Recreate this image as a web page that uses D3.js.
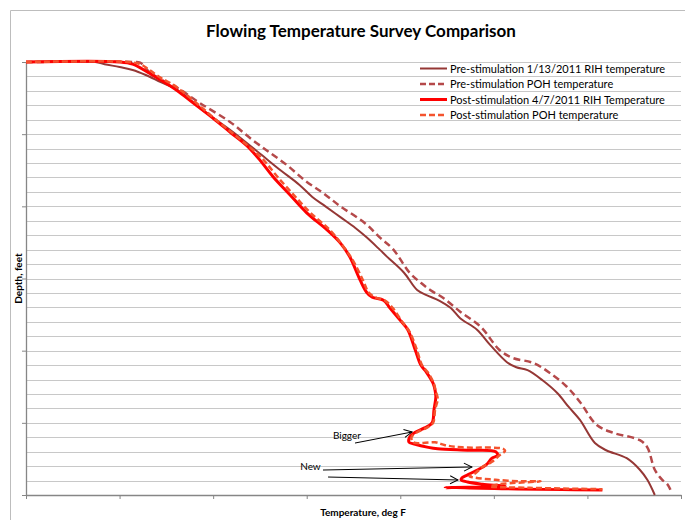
<!DOCTYPE html>
<html>
<head>
<meta charset="utf-8">
<script src="https://cdn.jsdelivr.net/npm/d3@7"></script>
<style>
  html, body { margin: 0; padding: 0; background: #fff; }
  svg { display: block; font-family: Lato, "Open Sans", sans-serif; }
</style>
</head>
<body>
<svg id="chart" width="685" height="520"></svg>
<script>
// Temperature surveys: [temperature °F, depth ft]
const preRIH = [
  [50,0],[87,0],[92,30],[100,70],[107,110],[114,180],[122,280],[131,390],[143,640],
  [159,940],[166,1080],[176,1290],[186,1500],[196,1700],[203,1870],[210,2000],[218,2150],
  [226,2300],[232,2430],[239,2600],[243,2700],[252,2920],[259,3160],[264,3230],
  [271,3310],[277,3410],[282,3550],[291,3710],[298,3920],[307,4160],[312,4230],[318,4270],
  [326,4410],[334,4590],[340,4780],[346,4960],[354,5280],[360,5380],[371,5490],[378,5650],
  [382,5790],[386,6000]
];
const prePOH = [
  [50,0],[107,0],[111,10],[116,140],[122,240],[131,360],[143,570],[159,830],[171,1080],
  [180,1250],[189.5,1430],[199,1640],[209,1820],[218,2000],[231,2230],[239,2430],[246,2590],
  [255,2920],[261,3060],[266,3160],[273,3270],[282,3460],[293,3670],[303,3990],[310,4100],
  [321,4170],[330,4310],[339,4500],[346,4710],[355,5030],[364,5140],[378,5240],[382,5340],
  [386,5650],[390,5790],[393,5860],[395,5970]
];
const postRIH = [
  [50,0],[100,0],[107,30],[115,140],[122,250],[127,330],[132,420],[141,600],[150,780],
  [159,970],[168,1160],[175,1360],[182,1590],[191,1840],[200,2090],[211,2330],[218,2510],
  [223,2700],[228.5,3020],[232,3190],[235,3260],[241,3300],[244.5,3410],[250,3580],[254,3710],
  [258,3990],[261,4200],[264,4300],[267.5,4450],[268.6,4550],[269,4640],[268,4820],[267,5000],
  [263,5070],[258,5130],[255,5200],[254.7,5270],[257,5290],[265,5340],[270,5360],[287,5380],
  [301,5400],[302,5450],[299,5490],[296,5580],[291.5,5650],[286,5720],[283,5760],[282.5,5790],
  [286,5820],[294,5850],[306,5880],[274,5900],[358,5930]
];
const postPOH = [
  [50,0],[104.5,0],[111,30],[116,110],[122,220],[129,320],[135,440],[143,610],[151,790],
  [161,1000],[170,1190],[177,1360],[184,1580],[193,1840],[202,2090],[212.5,2330],[219,2540],
  [224,2720],[230,3020],[233,3190],[236.5,3260],[242,3310],[246,3410],[251,3600],[255,3740],
  [259,4000],[261.6,4200],[265,4310],[268,4460],[269,4570],[270,4660],[268.6,4820],[267.5,5000],
  [264,5070],[259,5130],[256,5200],[257,5270],[268.6,5270],[274,5310],[283,5340],[305,5360],
  [306,5390],[303,5450],[299,5540],[294,5610],[290,5700],[287,5740],[290,5760],[301,5790],
  [315,5810],[325,5810],[303,5850],[298,5880],[319,5900],[358,5920]
];

const seriesNames = [
  "Pre-stimulation 1/13/2011 RIH temperature",
  "Pre-stimulation POH temperature",
  "Post-stimulation 4/7/2011 RIH Temperature",
  "Post-stimulation POH temperature"
];
const seriesColors = ["#953735", "#b5494a", "#ff0000", "#f4532e"];
const seriesDash = [null, "7,4", null, "6,3"];
const seriesWidth = [2, 2.5, 3, 2.5];
const seriesData = [preRIH, prePOH, postRIH, postPOH];

const tempTicks = [50, 100, 150, 200, 250, 300, 350, 400];
const depthMajor = [0, 1000, 2000, 3000, 4000, 5000, 6000];
const depthGrid = d3.range(0, 6001, 200);

// Callouts: label, label anchor point, arrow start/end points ([temp, depth])
const callouts = [
  { text: "Bigger", at: [214, 5220], arrows: [[[225.8, 5280], [256.3, 5127]]] },
  { text: "New", at: [196.5, 5650], arrows: [[[208.7, 5654], [288.3, 5612]], [[211.4, 5751], [280.9, 5792]]] }
];

const svg = d3.select("#chart");
const W = 685, H = 520;

const x = d3.scaleLinear().domain([50, 400]).range([26, 681]);
const y = d3.scaleLinear().domain([0, 6000]).range([62, 495]);

// Outer chart frame
svg.append("path")
  .attr("d", `M10.5,${H} V10.5 H${W}`)
  .attr("fill", "none").attr("stroke", "#bdbdbd").attr("stroke-width", 1);

// Title
svg.append("text")
  .attr("x", 361).attr("y", 37)
  .attr("text-anchor", "middle")
  .attr("font-size", 17).attr("font-weight", 700)
  .attr("fill", "#000")
  .text("Flowing Temperature Survey Comparison");

// Horizontal gridlines
svg.append("g").selectAll("line").data(depthGrid.filter(d => d < 6000)).join("line")
  .attr("x1", x(50)).attr("x2", x(400))
  .attr("y1", d => Math.round(y(d)) + 0.5).attr("y2", d => Math.round(y(d)) + 0.5)
  .attr("stroke", "#c8c8c8").attr("stroke-width", 1.2);

// Axes (no tick labels)
const yAxis = d3.axisLeft(y).tickValues(depthMajor).tickFormat("").tickSize(4).tickSizeOuter(0);
const xAxis = d3.axisBottom(x).tickValues(tempTicks).tickFormat("").tickSize(4).tickSizeOuter(0);
const gy = svg.append("g").attr("transform", `translate(${x(50)},0)`).call(yAxis);
const gx = svg.append("g").attr("transform", `translate(0,${y(6000)})`).call(xAxis);
[gx, gy].forEach(g => {
  g.select(".domain").attr("stroke", "#868686").attr("stroke-width", 1.3);
  g.selectAll(".tick line").attr("stroke", "#868686");
});

// Axis titles
svg.append("text")
  .attr("transform", `translate(22,${(y(0) + y(6000)) / 2}) rotate(-90)`)
  .attr("text-anchor", "middle")
  .attr("font-size", 10).attr("font-weight", 700)
  .text("Depth, feet");
svg.append("text")
  .attr("x", 363).attr("y", 516)
  .attr("text-anchor", "middle")
  .attr("font-size", 10).attr("font-weight", 700)
  .text("Temperature, deg F");

// Survey lines
const line = d3.line()
  .x(d => x(d[0])).y(d => y(d[1]))
  .curve(d3.curveCatmullRom.alpha(0.5));
svg.append("g").selectAll("path").data(seriesData).join("path")
  .attr("d", line)
  .attr("fill", "none")
  .attr("stroke", (d, i) => seriesColors[i])
  .attr("stroke-width", (d, i) => seriesWidth[i])
  .attr("stroke-dasharray", (d, i) => seriesDash[i])
  .attr("stroke-linejoin", "round");

// Callouts
const defs = svg.append("defs");
defs.append("marker")
  .attr("id", "openArrow").attr("viewBox", "0 0 10 10")
  .attr("refX", 9).attr("refY", 5)
  .attr("markerWidth", 10).attr("markerHeight", 10)
  .attr("markerUnits", "userSpaceOnUse")
  .attr("orient", "auto")
  .append("path").attr("d", "M1,1 L9,5 L1,9")
  .attr("fill", "none").attr("stroke", "#000").attr("stroke-width", 1);
const cg = svg.append("g");
callouts.forEach(c => {
  cg.append("text")
    .attr("x", x(c.at[0])).attr("y", y(c.at[1]))
    .attr("font-size", 10).attr("fill", "#000")
    .text(c.text);
  c.arrows.forEach(a => {
    cg.append("line")
      .attr("x1", x(a[0][0])).attr("y1", y(a[0][1]))
      .attr("x2", x(a[1][0])).attr("y2", y(a[1][1]))
      .attr("stroke", "#000").attr("stroke-width", 1)
      .attr("marker-end", "url(#openArrow)");
  });
});

// Legend
const lg = svg.append("g");
seriesNames.forEach((name, i) => {
  const ly = 68.5 + i * 15.5;
  lg.append("line")
    .attr("x1", 420).attr("x2", 447).attr("y1", ly).attr("y2", ly)
    .attr("stroke", seriesColors[i])
    .attr("stroke-width", seriesWidth[i])
    .attr("stroke-dasharray", seriesDash[i] ? "6,3" : null);
  lg.append("text")
    .attr("x", 450).attr("y", ly + 4)
    .attr("font-size", 11).attr("fill", "#000")
    .text(name);
});
</script>
</body>
</html>
